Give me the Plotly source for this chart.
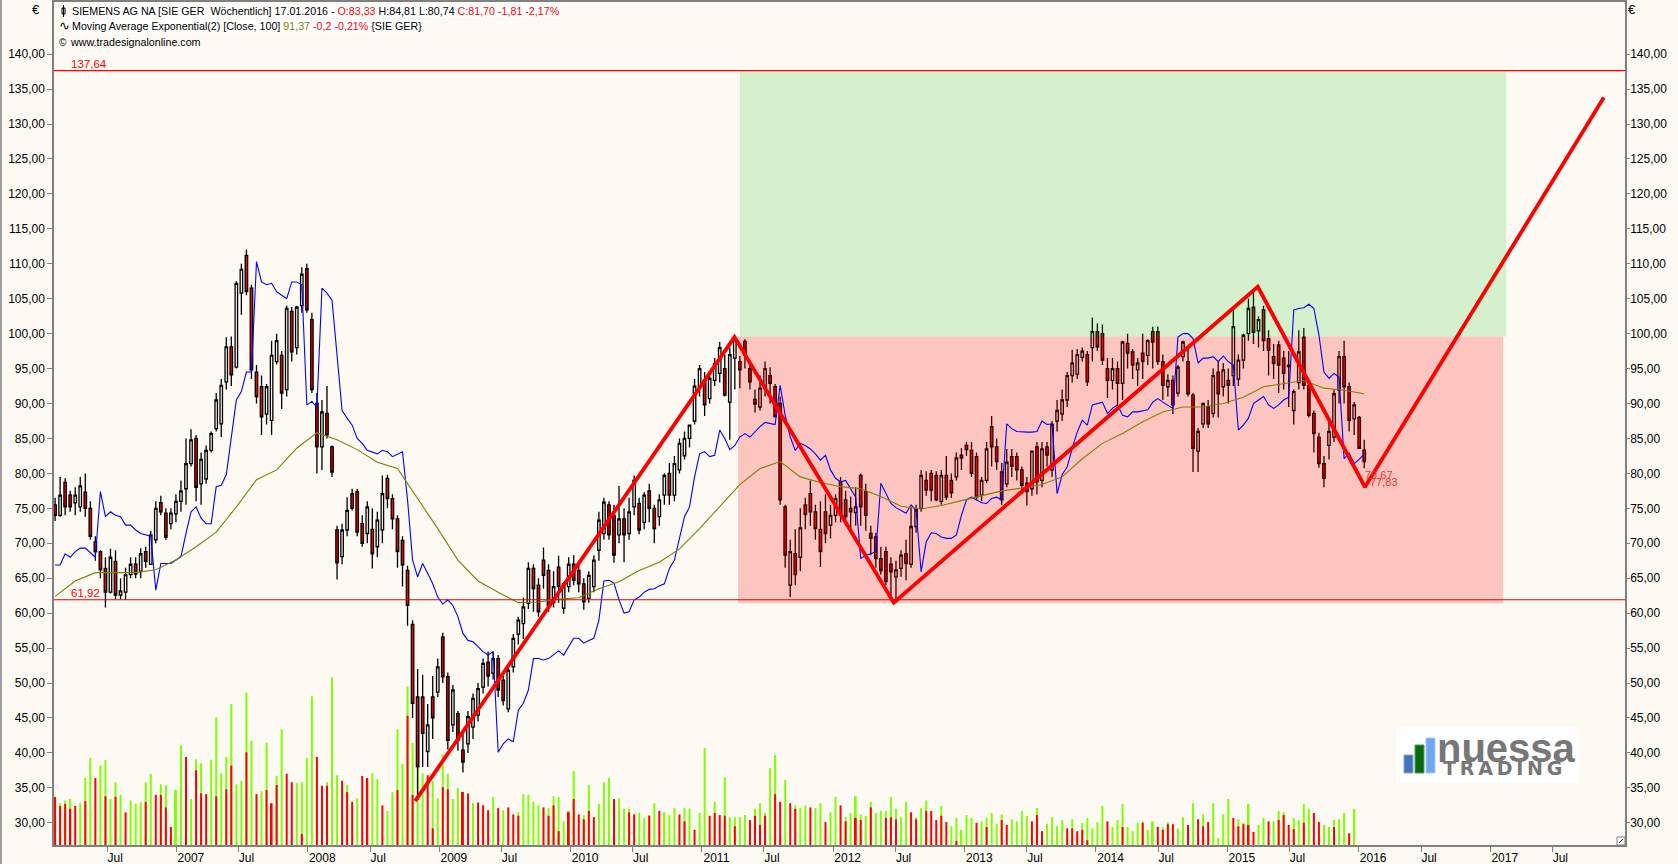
import pandas as pd
import plotly.graph_objects as go

W, H = 1678, 864
start_date = "2006-01-29"

opens = [
75.5,74.0,78.7,76.9,75.8,75.2,77.3,75.0,70.2,68.8,
66.4,63.0,67.4,62.6,63.0,65.5,67.0,66.0,68.8,67.0,
70.5,75.8,74.3,72.8,74.2,76.0,77.8,81.4,85.0,78.5,
79.2,83.3,86.4,87.1,93.1,98.1,95.2,105.8,111.2,106.5,
94.5,92.4,88.5,87.6,96.0,96.9,92.0,103.2,98.0,104.0,
109.3,102.0,90.0,83.8,88.6,83.8,71.9,68.1,71.9,77.1,
77.4,72.8,71.4,72.0,69.5,71.9,79.3,76.4,73.5,70.4,
66.1,58.4,48.0,48.0,40.2,48.0,48.7,56.6,50.9,44.0,
45.6,40.4,41.3,43.7,45.4,49.4,53.0,51.4,53.5,50.4,
46.3,52.3,57.0,58.5,61.4,66.4,64.0,67.6,66.1,61.5,
66.6,60.7,63.8,67.0,66.1,64.2,62.1,63.8,69.0,71.4,
75.5,74.0,71.2,73.5,71.4,75.2,75.7,73.0,77.5,75.0,
73.8,76.9,80.0,76.9,80.5,82.5,85.0,87.5,92.4,93.3,
90.7,93.3,94.3,95.0,90.2,96.5,96.0,98.9,95.0,90.6,
89.5,92.2,94.0,92.4,90.0,75.2,64.0,68.5,68.0,75.5,
77.1,74.5,72.0,74.5,72.6,74.0,78.8,76.2,75.0,74.4,
79.7,77.4,71.4,70.9,67.8,68.8,67.0,65.2,66.4,68.5,
67.0,72.4,75.0,79.0,80.0,79.7,76.0,79.7,79.0,79.5,
82.2,84.0,83.3,82.4,76.9,79.0,86.7,83.8,80.2,78.5,
82.4,82.4,80.5,78.6,77.8,83.8,79.0,83.8,80.5,87.5,
88.5,90.5,94.0,94.2,96.6,97.0,98.0,100.3,100.0,95.0,
93.3,95.0,92.9,98.6,97.4,94.8,97.2,96.9,100.3,100.3,
96.0,92.4,93.3,91.5,96.7,96.0,91.2,83.2,87.1,89.5,
88.6,94.5,92.4,93.3,94.0,93.5,96.2,100.0,103.8,100.4,
103.4,99.3,96.7,98.4,96.5,95.5,89.0,93.0,99.5,92.6,
88.6,85.2,81.4,84.0,85.2,91.9,96.7,92.4,87.8,88.0,
83.33]
highs = [
76.5,79.5,79.3,77.5,78.0,79.5,80.0,76.0,71.0,69.0,
68.0,69.2,69.0,65.0,66.5,68.0,68.0,69.3,69.5,71.8,
76.0,76.8,75.0,75.0,77.0,79.0,85.0,86.3,85.5,83.0,
84.0,86.0,91.5,93.5,99.5,99.6,107.5,110.0,112.0,107.0,
95.5,94.0,92.8,99.0,100.0,97.5,104.0,103.8,104.0,109.5,
110.0,103.0,91.5,90.5,92.5,84.0,72.5,72.8,76.6,77.8,
77.8,74.0,76.0,75.0,74.5,79.7,79.8,77.0,74.0,71.0,
66.8,59.0,52.0,51.2,47.0,51.0,53.5,57.2,51.5,49.7,
46.0,43.0,46.0,48.5,50.0,53.5,54.5,54.5,54.0,51.0,
52.2,57.0,59.5,62.2,67.3,67.0,65.0,69.4,67.0,66.0,
68.2,64.5,68.0,68.3,67.5,65.0,66.0,68.3,74.5,76.5,
76.0,75.5,78.2,75.0,76.5,79.7,76.5,77.3,78.5,75.5,
77.0,80.0,81.5,82.5,85.0,86.0,87.0,93.5,95.5,94.5,
94.5,96.5,98.8,97.0,98.0,99.5,96.8,99.2,96.0,92.0,
94.0,96.0,95.2,92.8,91.0,75.5,70.5,72.0,75.0,76.5,
79.0,75.5,76.0,77.0,75.5,77.0,79.5,77.5,76.7,78.0,
80.0,78.5,72.5,71.5,69.5,69.5,68.0,67.5,69.0,70.5,
75.2,75.5,80.5,80.3,80.5,80.3,80.5,82.5,80.0,83.0,
83.6,84.5,84.5,83.0,79.5,84.5,88.2,85.0,81.5,83.5,
83.5,83.0,81.0,79.5,83.2,84.5,84.5,84.5,87.5,90.5,
92.0,94.5,97.7,97.8,98.0,97.5,102.3,101.5,101.3,96.5,
96.5,96.0,99.0,100.0,97.8,96.5,100.0,99.2,101.0,101.0,
97.0,94.2,94.0,95.5,99.0,98.0,91.5,86.5,90.0,90.5,
95.0,96.0,95.8,95.0,103.5,97.0,100.0,105.0,106.0,102.5,
104.0,100.5,98.5,99.0,97.5,97.5,92.0,100.5,100.8,93.0,
89.0,85.8,82.5,87.5,92.0,97.5,99.0,93.0,90.2,88.2,
84.81]
lows = [
73.2,73.8,74.0,74.5,74.0,74.5,73.8,70.5,67.5,65.0,
60.8,62.8,62.0,62.0,61.9,65.0,65.0,65.0,66.5,67.0,
70.0,74.0,70.5,72.0,73.0,74.5,75.5,81.0,76.0,75.5,
78.5,83.0,86.0,85.2,92.0,92.5,95.0,102.7,105.5,93.5,
90.0,85.5,87.0,85.5,95.6,89.2,91.0,96.0,97.0,103.0,
103.0,91.5,80.0,80.5,85.0,79.5,64.8,67.0,71.0,74.7,
71.0,69.5,70.0,66.4,68.0,70.0,75.0,72.0,66.5,63.8,
58.2,45.0,33.3,38.0,38.0,42.0,48.0,50.0,40.5,43.0,
40.3,37.2,40.0,42.0,44.5,48.5,49.5,50.5,48.0,46.8,
45.8,51.5,55.5,56.3,60.6,60.2,59.5,63.5,60.2,60.8,
61.5,59.9,63.0,64.0,63.0,60.5,61.5,63.0,67.5,70.5,
70.5,67.2,70.0,67.3,70.5,74.0,71.3,72.0,73.0,70.0,
72.5,75.5,75.5,76.0,80.0,82.0,83.7,87.0,91.0,88.2,
90.0,92.5,93.0,91.0,84.8,92.0,92.2,95.0,92.0,88.7,
89.0,91.0,90.0,88.0,75.5,66.5,62.3,64.0,66.0,72.0,
72.5,70.5,66.6,70.0,70.7,73.0,73.0,72.5,72.0,72.5,
72.5,71.8,68.3,66.5,65.5,64.0,62.5,61.9,65.2,64.7,
66.5,71.5,74.5,76.8,76.0,76.0,75.5,76.2,76.5,79.0,
80.5,82.5,79.5,76.2,76.0,78.6,81.0,80.5,75.5,78.0,
79.5,79.0,77.0,75.4,76.8,77.0,78.0,81.0,79.5,86.0,
87.5,89.5,93.0,93.5,96.0,92.5,96.0,97.5,95.5,90.8,
92.0,89.5,90.5,95.0,93.5,92.5,93.5,95.5,95.0,95.5,
90.5,91.0,88.5,91.0,96.0,91.0,80.2,80.2,86.5,86.5,
88.0,88.0,91.0,90.0,92.5,92.5,95.0,99.0,98.5,98.0,
97.5,94.0,93.5,91.5,92.0,89.5,87.0,92.0,92.0,88.0,
83.0,80.8,78.0,82.0,84.5,90.0,90.0,86.0,85.5,83.5,
80.74]
closes = [
74.0,76.9,75.2,75.2,76.9,78.2,75.0,71.0,68.8,66.2,
63.0,68.0,62.6,63.2,65.5,67.0,65.6,68.5,67.4,71.2,
75.0,74.5,70.9,74.3,76.0,77.5,81.4,84.8,78.0,82.0,
83.3,85.7,90.5,92.6,98.1,94.1,107.2,109.2,106.0,94.8,
91.0,88.1,92.4,96.9,99.0,91.5,103.6,97.4,103.8,108.5,
103.4,92.0,83.8,88.8,85.5,80.2,67.2,71.9,74.7,75.0,
71.6,70.0,75.2,68.5,73.3,77.1,76.4,73.5,68.8,66.9,
61.1,47.1,38.0,42.8,44.0,45.0,52.3,50.9,41.8,49.0,
41.8,38.7,45.2,47.8,49.2,52.8,51.0,53.5,49.0,47.5,
51.8,56.4,59.0,60.9,66.4,63.5,60.2,65.4,61.1,63.8,
63.8,64.2,67.0,64.7,64.2,61.6,65.4,67.6,73.3,75.9,
71.2,68.3,73.5,71.2,74.5,79.0,71.9,76.9,75.0,72.1,
76.2,79.7,76.9,81.4,84.3,85.0,86.9,92.5,95.0,89.8,
93.6,95.7,98.0,91.2,97.0,99.1,94.8,96.9,93.1,89.9,
92.2,95.0,92.9,88.1,76.2,68.3,68.8,65.5,72.2,74.1,
74.5,72.1,68.8,71.4,74.0,76.4,74.0,73.8,74.5,75.2,
75.2,74.0,70.7,67.8,66.1,64.5,65.9,66.2,68.3,67.1,
72.4,74.8,79.7,77.6,77.6,76.2,79.7,76.6,77.2,82.2,
82.6,83.4,80.0,76.6,79.0,83.5,83.8,81.7,76.2,81.6,
81.0,80.5,78.3,77.4,83.2,78.8,83.5,82.6,87.0,89.0,
90.5,94.0,95.8,97.0,97.5,93.1,100.3,98.1,96.2,93.3,
95.0,92.9,98.8,97.2,95.5,95.8,96.0,99.0,98.8,96.0,
92.6,93.3,89.8,95.2,98.8,91.4,83.6,86.0,90.0,87.1,
94.0,91.4,94.8,92.6,101.0,96.2,99.8,103.6,100.2,102.0,
99.0,97.6,95.7,95.5,94.3,95.3,91.7,97.4,92.6,88.3,
85.7,81.4,79.3,86.0,91.4,96.7,92.4,87.6,89.8,83.6,
81.7]

blue_band = [
66.9,66.9,68.5,68.0,68.8,69.3,69.3,68.6,68.0,77.4,
73.8,74.5,74.0,73.8,72.6,72.6,71.9,71.4,71.2,71.0,
63.3,67.1,67.1,67.1,67.6,68.1,71.4,74.5,75.2,73.6,
72.8,72.8,78.1,78.3,79.8,84.8,90.5,91.7,94.5,94.5,
110.3,107.4,107.0,107.2,106.0,105.5,105.0,107.4,107.4,107.0,
89.8,90.3,89.5,106.5,105.8,104.8,96.7,89.0,87.9,86.9,
85.0,84.3,83.3,83.1,82.8,83.3,83.1,82.4,82.8,83.1,
76.2,67.6,65.2,67.1,65.7,64.2,62.3,61.3,61.9,61.1,
59.5,57.1,56.1,55.9,55.2,54.5,54.0,54.5,40.1,41.3,
42.0,41.6,46.1,47.1,49.0,53.5,53.5,53.3,53.5,54.0,
54.6,54.0,55.2,56.4,56.4,55.7,56.1,56.4,59.0,64.6,
64.7,64.3,61.9,60.0,60.2,61.9,62.3,63.0,63.4,63.5,
63.9,64.2,66.4,67.6,70.7,73.8,75.2,79.5,82.8,83.1,
82.4,82.6,86.2,85.0,83.4,84.0,85.2,85.7,85.2,86.0,
86.7,87.3,87.1,87.0,92.6,88.3,85.2,83.3,84.3,84.0,
83.5,82.8,81.9,82.6,80.5,79.3,78.8,79.0,77.8,76.6,
67.8,68.3,68.5,68.8,78.6,77.1,75.7,75.1,74.7,74.3,
75.5,74.7,65.9,70.2,71.5,71.4,70.9,70.7,70.7,71.2,
74.0,76.2,76.6,76.2,75.8,75.7,76.4,76.6,76.2,87.1,
86.4,86.0,85.9,85.9,85.9,86.0,87.5,87.0,87.1,77.1,
79.8,80.9,83.6,85.9,87.6,86.9,89.8,90.0,90.2,88.6,
89.3,89.8,88.3,88.1,88.8,88.8,89.0,89.1,90.2,90.7,
90.2,89.8,89.3,99.5,100.0,100.0,99.3,95.8,96.5,96.5,
96.7,96.0,96.8,96.0,95.5,86.2,86.9,87.9,90.0,90.5,
91.0,89.8,89.3,89.8,90.5,90.9,103.4,103.6,103.7,104.2,
103.6,99.8,94.5,93.6,94.3,93.8,82.1,82.9,81.4,82.0,
82.8]

# one reading per 8 weeks (every 4th candle)
ema_100 = [
62.4,64.6,65.8,65.8,65.8,66.2,67.6,69.5,71.6,75.2,
79.1,80.5,83.6,85.8,84.8,83.4,81.6,80.7,76.4,72.1,
67.6,64.6,63.0,61.5,61.6,62.0,62.2,63.5,64.5,66.1,
67.3,69.2,72.1,75.2,78.4,80.7,81.7,79.5,78.7,78.1,
77.8,76.7,75.3,74.9,75.4,76.1,76.8,77.5,77.9,78.4,
79.5,82.1,84.3,85.7,87.4,88.8,89.5,89.5,90.0,90.9,
92.4,92.9,93.3,92.2,91.9,91.4]

vol_green = [
None,32.8,33.2,33.4,None,32.8,36.4,39.3,None,38.2,
39.0,33.4,35.8,34.0,None,33.2,32.7,32.9,35.8,37.0,
None,35.5,35.4,None,34.7,41.1,None,33.4,39.1,38.5,
None,39.0,45.1,37.1,39.4,47.0,35.5,36.0,48.6,41.7,
None,34.5,41.5,None,36.7,43.4,None,None,35.7,35.8,
39.3,48.1,None,None,35.8,50.8,36.8,None,35.4,None,
33.5,None,None,37.1,36.2,None,31.7,34.4,43.4,38.4,
49.5,41.4,38.7,37.1,None,36.0,33.5,39.8,37.0,33.4,
35.0,None,None,32.8,None,None,None,33.7,None,31.8,
None,None,31.5,34.1,34.0,33.0,32.5,None,32.1,33.8,
33.7,30.2,31.7,37.4,None,31.1,35.4,None,32.7,35.8,
36.4,None,33.5,32.0,32.0,None,31.4,30.7,31.1,32.8,
None,31.5,31.1,32.1,None,32.1,32.0,None,
31.4,40.7,None,33.0,None,36.5,30.8,30.8,30.8,31.1,
None,32.0,32.8,31.4,37.8,39.7,None,36.1,None,32.5,
32.1,32.5,None,32.1,32.8,None,31.5,33.7,None,30.8,
31.4,33.8,31.2,30.96,33.0,31.4,31.7,31.7,33.7,32.0,
30.8,33.0,None,30.8,32.1,33.2,None,None,32.4,None,
29.5,30.7,29.0,31.1,30.7,None,30.2,30.7,31.4,29.8,
31.2,None,30.5,30.2,31.7,31.0,None,32.1,None,29.8,
30.8,29.5,30.4,None,30.5,None,30.0,30.7,29.2,30.1,
32.4,None,29.4,30.4,32.7,29.4,28.8,30.0,30.2,29.0,
30.2,None,29.4,30.1,None,29.2,30.8,None,32.8,None,
31.2,None,32.8,27.8,31.2,33.4,None,30.5,30.0,32.7,
None,29.7,30.7,None,30.2,31.7,31.5,None,30.7,30.4,
32.7,32.0,None,None,29.7,29.4,30.4,30.5,31.4,None,
32.0][:260]
vol_red = [
33.7,32.4,32.7,32.0,32.4,None,33.1,None,36.4,None,
33.8,None,33.7,None,31.5,None,None,None,33.0,None,
34.0,34.0,32.2,29.4,None,None,39.4,None,37.5,34.2,
34.1,None,33.8,None,34.8,38.2,None,None,40.1,None,
34.1,None,34.7,32.8,35.4,None,37.0,35.8,None,28.4,
None,None,39.4,35.3,35.3,None,None,36.0,34.4,33.0,
None,36.7,36.4,None,None,32.5,None,None,34.7,None,
45.3,34.0,None,None,36.8,29.2,None,35.1,34.8,None,
None,34.4,34.2,None,32.9,32.5,31.8,None,32.1,None,
32.2,31.2,31.0,None,None,None,None,32.2,31.0,32.5,
28.8,None,31.5,33.4,31.2,30.5,31.7,30.8,None,None,
None,33.4,None,None,31.5,31.2,None,None,31.0,None,
31.7,None,None,None,31.2,30.2,None,29.0,
None,None,31.0,31.4,31.1,31.0,None,29.5,None,None,
30.4,31.0,29.7,31.0,None,34.1,33.0,None,32.8,32.0,
None,None,32.2,None,None,30.1,None,None,32.5,30.2,
None,30.7,30.4,None,32.2,None,None,30.7,30.8,30.5,
None,None,31.5,30.5,None,31.7,31.7,30.4,31.0,30.1,
None,27.4,None,None,None,30.0,None,29.4,None,None,
30.4,29.7,None,None,None,None,30.2,31.1,28.8,None,
None,None,None,29.2,29.2,28.8,29.0,27.5,None,None,
None,30.2,None,None,29.4,None,None,None,30.0,None,
None,29.4,29.0,29.8,29.8,None,None,29.7,None,30.5,
29.5,30.1,None,None,None,None,30.7,29.5,29.8,29.7,
28.7,None,None,30.2,None,30.4,31.1,29.7,29.1,None,
30.0,None,31.4,30.1,None,None,29.4,None,None,28.5,
None][:260]

level_high = 137.64
level_low = 61.92
zone_mid = 99.6
zone_floor = 61.4
zigzag_dates = ["2008-10-26","2011-04-02","2012-06-18","2015-03-27","2016-01-19","2017-11-13"]
zigzag_vals = [33.1,99.5,61.5,106.7,78.05,133.8]
pink_dates = ["2011-04-12","2017-02-06"]
green_dates = ["2011-04-17","2017-02-15"]
x_range = ["2006-01-26","2018-01-11"]
y_range = [26.82,147.46]
y_ticks = list(range(30,145,5))
tick_years = list(range(2007,2018))

dates = pd.date_range(start_date, periods=len(closes), freq="14D")
vol_dates = dates[:260]
ema_dates = dates[::4]

bar_w = 2/131.4*365.25*86400000

fig = go.Figure()
fig.add_trace(go.Bar(x=vol_dates, y=vol_green, marker=dict(color="#7fff00", line_width=0), width=bar_w, hoverinfo="skip"))
fig.add_trace(go.Bar(x=vol_dates, y=vol_red, marker=dict(color="#ff0000", line_width=0), width=bar_w, hoverinfo="skip"))
fig.add_trace(go.Candlestick(
    x=dates, open=opens, high=highs, low=lows, close=closes, whiskerwidth=0,
    increasing=dict(line=dict(color="#000000", width=1.3), fillcolor="#fdfaf3"),
    decreasing=dict(line=dict(color="#000000", width=1.3), fillcolor="#ff0000"),
    hoverinfo="skip"))
# translucent zones sit over the candles, as in the reference
fig.add_trace(go.Scatter(x=[pink_dates[0],pink_dates[1],pink_dates[1],pink_dates[0],pink_dates[0]],
    y=[zone_floor,zone_floor,zone_mid,zone_mid,zone_floor], mode="lines", line_width=0,
    fill="toself", fillcolor="rgba(255,0,0,0.21)", hoverinfo="skip"))
fig.add_trace(go.Scatter(x=[green_dates[0],green_dates[1],green_dates[1],green_dates[0],green_dates[0]],
    y=[zone_mid,zone_mid,level_high,level_high,zone_mid], mode="lines", line_width=0,
    fill="toself", fillcolor="rgba(0,192,0,0.16)", hoverinfo="skip"))
fig.add_trace(go.Scatter(x=dates, y=blue_band, mode="lines", line=dict(color="#0000ff", width=1.1), hoverinfo="skip"))
fig.add_trace(go.Scatter(x=ema_dates, y=ema_100, mode="lines", line=dict(color="#808000", width=1.1), hoverinfo="skip"))
fig.add_trace(go.Scatter(x=x_range, y=[level_high,level_high], yaxis="y2", mode="lines", line=dict(color="#ff0000", width=1.2), hoverinfo="skip"))
fig.add_trace(go.Scatter(x=x_range, y=[level_low,level_low], yaxis="y2", mode="lines", line=dict(color="#e60000", width=1.2), hoverinfo="skip"))
fig.add_trace(go.Scatter(x=zigzag_dates, y=zigzag_vals, mode="lines", line=dict(color="#ff0000", width=3.8), hoverinfo="skip"))

NB = "\u00a0" * 4
tickvals, ticktext = ["2006-06-23"], ["Jul"]
for yr in tick_years:
    tickvals += [f"{yr}-01-01", f"{yr}-06-23"]
    ticktext += [NB + str(yr), "Jul"]

font = dict(family="Liberation Sans, Arial, sans-serif", size=12, color="#000000")
yaxis_common = dict(range=y_range, tickvals=y_ticks, tickformat=".2f", ticks="outside", tickwidth=1,
                    tickcolor="#808080", showgrid=False, zeroline=False, tickfont=font, automargin=False,
                    linecolor="#808080", linewidth=1.5, showline=True, fixedrange=True)
fig.update_layout(
    width=W, height=H, margin=dict(l=0,r=0,t=0,b=0), autosize=False, showlegend=False,
    separators=",.", paper_bgcolor="#fdfaf3", plot_bgcolor="#fdfaf3", barmode="overlay", font=font,
    xaxis=dict(domain=[54/W,1625/W], type="date", range=x_range, tickmode="array", tickvals=tickvals, ticktext=ticktext,
               ticks="outside", ticklen=5, tickwidth=1, tickcolor="#808080", showgrid=False, zeroline=False,
               rangeslider=dict(visible=False), tickfont=font, automargin=False, linecolor="#808080", linewidth=1.5,
               showline=True, mirror=True, ticklabelshift=8, ticklabelstandoff=-4, fixedrange=True),
    yaxis=dict(domain=[(H-845)/H,(H-2)/H], side="left", anchor="x", ticklen=5, **yaxis_common),
    yaxis2=dict(domain=[(H-845)/H,(H-2)/H], side="right", overlaying="y", anchor="x", ticklen=3, ticklabelstandoff=-2, **yaxis_common),
)

def note(px, py, text, size=12, color="#000000", bg=None, family=None, anchor="left"):
    fig.add_annotation(xref="paper", yref="paper", x=px/W, y=1-py/H, text=text, showarrow=False,
                       xanchor=anchor, yanchor="middle", borderpad=0, bgcolor=bg,
                       font=dict(family=family or "Liberation Sans, Arial, sans-serif", size=size, color=color))

def box(x0, y0, x1, y1, fill=None, line=None, width=1, layer="above"):
    fig.add_shape(type="rect", xref="paper", yref="paper", x0=x0/W, x1=x1/W, y0=1-y0/H, y1=1-y1/H,
                  fillcolor=fill, line=dict(color=line, width=width) if line else dict(width=0), layer=layer)

R = '<span style="color:#ff0000">%s</span>'
note(71, 11, "SIEMENS AG NA [SIE GER  Wöchentlich] 17.01.2016 - " + R % "O:83,33" + " H:84,81 L:80,74 " + R % "C:81,70 -1,81 -2,17%", size=10.7, bg="#ffffff")
note(71, 26, 'Moving Average Exponential(2) [Close, 100] <span style="color:#808000">91,37</span> ' + R % "-0,2 -0,21%" + " {SIE GER}", size=10.7, bg="#ffffff")
note(58, 26, "∿", size=13)
note(58, 42, "©", size=10)
note(69, 42, "www.tradesignalonline.com", size=10.7)
box(62, 8, 65, 14, fill="#ffffff", line="#000000")
fig.add_shape(type="line", xref="paper", yref="paper", x0=63.5/W, x1=63.5/W, y0=1-5/H, y1=1-17/H, line=dict(color="#000000", width=1))
note(36, 10, "€", size=13, anchor="center")
note(1632, 10, "€", size=13, anchor="center")
note(70, 64, "137,64", size=11.5, color="#ff0000")
note(70, 593, "61,92", size=11.5, color="#ff0000")
note(1364, 475, "79,67", size=11, color="#ff3030")
note(1369, 482, "77,83", size=11, color="#ff3030")

box(0, 0, 2, H, fill="#a0a0a0")
box(1617, 837, 1625, 845, fill="#ffffff", line="#808080")
fig.add_shape(type="line", xref="paper", yref="paper", x0=1619/W, x1=1623/W, y0=1-843/H, y1=1-839/H, line=dict(color="#000000", width=1))

# logo
box(1396, 727, 1579, 783, fill="#ffffff")
box(1404, 755, 1413, 773, fill="#3f74b8", line="#7fa6d8")
box(1415, 745, 1424, 773, fill="#0a6a10", line="#5a9a60")
box(1426, 738, 1435, 773, fill="#6ea8f0", line="#a8c8f4")
note(1436, 748, "<b>nuessa</b>", size=40, color="#777777", family="Liberation Sans")
note(1442, 768, "<b>" + "\u2009".join("TRADING") + "</b>", size=19, color="#777777", family="DejaVu Sans")

fig.write_html("out.html", config=dict(displayModeBar=False, responsive=False),
               post_script="document.body.style.margin='0';document.body.style.overflow='hidden';")
